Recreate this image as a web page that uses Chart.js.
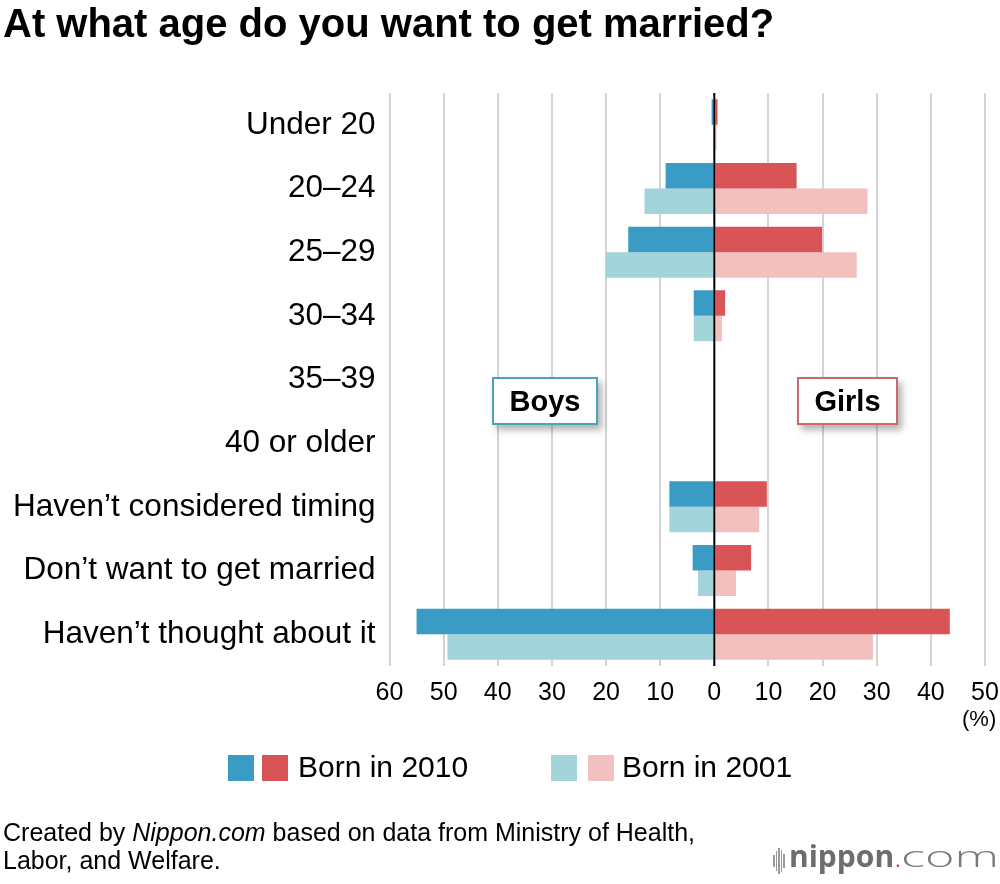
<!DOCTYPE html>
<html>
<head>
<meta charset="utf-8">
<script src="https://cdn.jsdelivr.net/npm/chart.js@4.4.1/dist/chart.umd.min.js"></script>
<style>
  body { margin: 0; background: #fff; font-family: Helvetica, Arial, "Liberation Sans", sans-serif; }
  #wrap { position: relative; width: 1000px; height: 884px; overflow: hidden; }
  #chartBox { position: absolute; left: 0; top: 0; width: 1000px; height: 884px; }
  .abs { position: absolute; white-space: nowrap; color: #000; }
  #title { left: 3px; top: 1px; font-size: 40px; font-weight: bold; }
  .tag { position: absolute; top: 377px; height: 44px; background: #fff; font-size: 29px; font-weight: bold;
         line-height: 45px; text-align: center; box-shadow: 4px 5px 7px rgba(0,0,0,0.3); }
  #boys { left: 492px; width: 102px; border: 2px solid #4aa3b8; }
  #girls { left: 797px; width: 97px; border: 2px solid #c96a6a; }
  .sq { position: absolute; top: 755px; width: 26px; height: 26px; }
  .leg { top: 750px; font-size: 30px; }
  #pct { left: 962px; top: 706px; font-size: 22px; }
  #foot { left: 3px; top: 818px; font-size: 25px; line-height: 28px; }
  #logo { left: 789px; top: 835px; font-family: "Open Sans", sans-serif; font-size: 30px; color: #6d6d6d; }
  #logo b { font-weight: 700; }
  #logo .dot { color: #e0323a; font-weight: 300; }
  #logo .com { display: inline-block; font-weight: 300; color: #7a7a7a; transform: scaleX(1.68); transform-origin: left center; }
  .wave { position: absolute; width: 1.5px; background: #9a9a9a; }
</style>
</head>
<body>
<div id="wrap">
  <div id="chartBox"><canvas id="myChart"></canvas></div>
  <div class="abs" id="title">At what age do you want to get married?</div>
  <div class="tag" id="boys">Boys</div>
  <div class="tag" id="girls">Girls</div>
  <div class="abs" id="pct">(%)</div>
  <div class="sq" style="left:228px;background:#3a9cc4"></div>
  <div class="sq" style="left:262px;background:#d95457"></div>
  <div class="abs leg" style="left:298px">Born in 2010</div>
  <div class="sq" style="left:551px;background:#a3d4da"></div>
  <div class="sq" style="left:588px;background:#f2c0bf"></div>
  <div class="abs leg" style="left:622px">Born in 2001</div>
  <div class="abs" id="foot">Created by <i>Nippon.com</i> based on data from Ministry of Health,<br>Labor, and Welfare.</div>
  <div class="wave" style="left:773px;top:855px;height:12px"></div>
  <div class="wave" style="left:775.5px;top:851px;height:20px"></div>
  <div class="wave" style="left:778px;top:848px;height:26px"></div>
  <div class="wave" style="left:780.5px;top:850px;height:22px"></div>
  <div class="wave" style="left:783px;top:854px;height:14px"></div>
  <div class="abs" id="logo"><b>nippon</b><span class="dot">.</span><span class="com">com</span></div>
</div>
<script>
const categories = [
  "Under 20",
  "20–24",
  "25–29",
  "30–34",
  "35–39",
  "40 or older",
  "Haven’t considered timing",
  "Don’t want to get married",
  "Haven’t thought about it",
];
// percentages; boys are drawn to the left
const boys2010 = [0.5, 9.0, 15.9, 3.8, 0, 0, 8.3, 4.0, 55.0];
const girls2010 = [0.6, 15.2, 19.9, 2.0, 0, 0, 9.7, 6.8, 43.5];
const boys2001 = [0, 12.9, 20.1, 3.8, 0, 0, 8.3, 3.0, 49.3];
const girls2001 = [0.4, 28.3, 26.3, 1.4, 0, 0, 8.3, 4.0, 29.3];
const xTicks = [-60, -50, -40, -30, -20, -10, 0, 10, 20, 30, 40, 50];

const FONT = "Helvetica, Arial, 'Liberation Sans', sans-serif";

const zeroLine = {
  id: "zeroLine",
  afterDatasetsDraw(chart) {
    const { ctx, chartArea, scales } = chart;
    const x = scales.x.getPixelForValue(0);
    ctx.save();
    ctx.strokeStyle = "#000";
    ctx.lineWidth = 2;
    ctx.beginPath();
    ctx.moveTo(x, chartArea.top);
    ctx.lineTo(x, chartArea.bottom);
    ctx.stroke();
    ctx.restore();
  },
};

function makeSet(label, values, color, stack, negate) {
  return {
    label: label,
    data: values.map((v) => (negate ? -v : v)),
    backgroundColor: color,
    stack: stack,
    barPercentage: 1.0,
    categoryPercentage: 0.8,
  };
}

const ctx = document.getElementById("myChart");

new Chart(ctx, {
  type: "bar",
  data: {
    labels: categories,
    datasets: [
      makeSet("Boys, born in 2010", boys2010, "#3a9cc4", "2010", true),
      makeSet("Girls, born in 2010", girls2010, "#d95457", "2010", false),
      makeSet("Boys, born in 2001", boys2001, "#a3d4da", "2001", true),
      makeSet("Girls, born in 2001", girls2001, "#f2c0bf", "2001", false),
    ],
  },
  options: {
    indexAxis: "y",
    responsive: true,
    maintainAspectRatio: false,
    animation: false,
    layout: { padding: { top: 93, right: 15, bottom: 168, left: 0 } },
    plugins: {
      legend: { display: false },
      tooltip: { enabled: false },
    },
    scales: {
      x: {
        stacked: true,
        min: -60,
        max: 50,
        afterBuildTicks: (scale) => {
          scale.ticks = xTicks.map((v) => ({ value: v }));
        },
        afterFit: (scale) => {
          scale.height = 50;
          scale.paddingLeft = 0;
          scale.paddingRight = 0;
        },
        border: { display: false },
        grid: {
          drawTicks: false,
          lineWidth: 2,
          color: (c) => (c.tick && c.tick.value === 0 ? "rgba(0,0,0,0)" : "#d4d4d4"),
        },
        ticks: {
          padding: 12,
          color: "#000",
          font: { family: FONT, size: 25 },
          callback: (v) => Math.abs(v),
        },
      },
      y: {
        stacked: true,
        afterFit: (scale) => {
          scale.width = 389.5;
        },
        border: { display: false },
        grid: { display: false, drawTicks: false },
        ticks: {
          padding: 14,
          color: "#000",
          font: { family: FONT, size: 31.5 },
        },
      },
    },
  },
  plugins: [zeroLine],
});
</script>
</body>
</html>
